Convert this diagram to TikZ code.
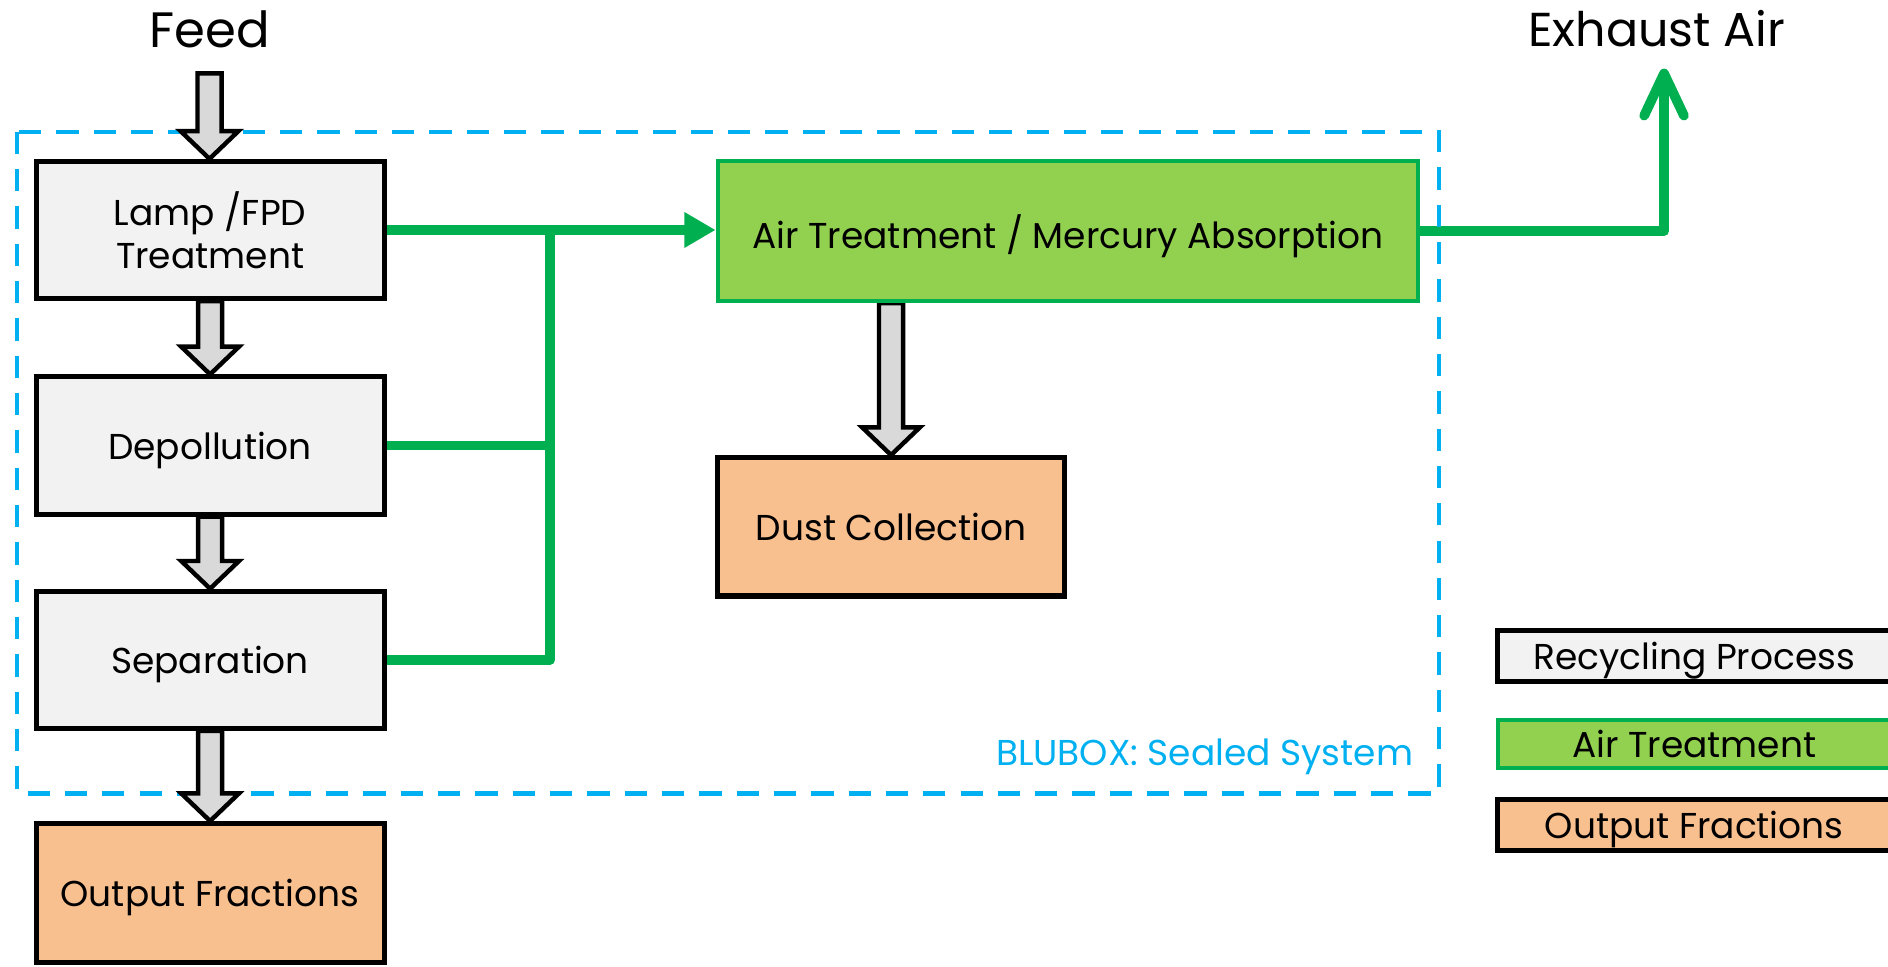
\documentclass[tikz,border=0pt]{standalone}
\usepackage{fontspec}
\setmainfont{Poppins}
\usetikzlibrary{arrows.meta,calc,backgrounds}
\definecolor{boxgray}{HTML}{F2F2F2}
\definecolor{arrowgray}{HTML}{D9D9D9}
\definecolor{airfill}{HTML}{92D050}
\definecolor{airline}{HTML}{00B050}
\definecolor{outfill}{HTML}{F8BF8F}
\definecolor{bluline}{HTML}{00B0F0}
\newcommand\blockarrow[2]{%
  \path[draw=black, fill=arrowgray, line width=2.1pt, line join=miter]
  let \p1=(#1), \p2=(#2) in
  (\x1-0.2cm,\y1) -- (\x1-0.2cm,\y2+0.46cm) -- (\x1-0.48cm,\y2+0.46cm) -- (\x1,\y2)
  -- (\x1+0.48cm,\y2+0.46cm) -- (\x1+0.2cm,\y2+0.46cm) -- (\x1+0.2cm,\y1) -- cycle;}
\tikzset{
  boxtext/.style={font=\fontsize{17}{20.5}\selectfont, align=center, inner sep=0pt, text depth=0pt},
  proc/.style={boxtext, draw=black, fill=boxgray, line width=2.4pt, minimum width=5.78cm, minimum height=2.28cm},
  outbox/.style={boxtext, draw=black, fill=outfill, line width=2.4pt, minimum width=5.78cm, minimum height=2.3cm},
  airbox/.style={boxtext, draw=airline, fill=airfill, line width=2pt, minimum width=11.64cm, minimum height=2.32cm},
  legbox/.style={boxtext, line width=2.4pt, minimum width=6.52cm, minimum height=0.84cm},
  title/.style={font=\fontsize{23.5}{28}\selectfont, inner sep=0pt},
  greenline/.style={draw=airline, line width=4.6pt, line join=round},
  blubox/.style={draw=bluline, line width=1.9pt, dash pattern=on 0.37cm off 0.25cm},
}
\begin{document}
\begin{tikzpicture}[x=0.02cm, y=-0.02cm]
\clip (0,0) rectangle (1568,803);
% titles
\node[title] (feed) at (174,24) {Feed};
\node[title, font=\fontsize{22.5}{27}\selectfont] (exhaust) at (1376,24) {Exhaust Air};
\coordinate (feedtop) at (174,61);
% process boxes
\node[proc] (lamp) at (174.5,191) {Lamp /FPD\\Treatment};
\node[proc] (dep) at (174.5,370) {Depollution};
\node[proc] (sep) at (174.5,548) {Separation};
\node[outbox] (out) at (174.5,741.5) {Output Fractions};
\node[airbox] (air) at (887,192) {Air Treatment / Mercury Absorption};
\node[outbox, minimum width=5.76cm] (dust) at (740,437.5) {Dust Collection};
% legend
\node[legbox, draw=black, fill=boxgray] (legrec) at (1407,545) {Recycling Process};
\node[legbox, draw=airline, fill=airfill, line width=2pt, minimum height=0.8cm] (legair) at (1407,618) {Air Treatment};
\node[legbox, draw=black, fill=outfill] (legout) at (1407,685) {Output Fractions};
% air lines
\coordinate (j) at (457,0);
\draw[greenline, -{Triangle[length=0.52cm, width=0.56cm]}] (lamp.east) -- (lamp.east -| air.west);
\draw[greenline] (dep.east) -- (dep.east -| j);
\draw[greenline] (sep.east) -- (sep.east -| j) -- (lamp.east -| j);
\coordinate (exturn) at (1382,192);
\coordinate (exend) at (1382,57);
\draw[greenline, -{Straight Barb[length=0.7cm, width=0.66cm, round]}] (air.east) -- (exturn) -- (exend);
% sealed system frame
\coordinate (bbnw) at (14.5,109.5);
\coordinate (bbse) at (1195,659);
\draw[blubox] (bbnw) rectangle (bbse);
\node[boxtext, text=bluline, anchor=east] (blutext) at (1174,625) {BLUBOX: Sealed System};
% block arrows
\blockarrow{feedtop}{lamp.north}
\blockarrow{lamp.south}{dep.north}
\blockarrow{dep.south}{sep.north}
\blockarrow{sep.south}{out.north}
\begin{pgfonlayer}{background}
\blockarrow{dust.north |- air.south}{dust.north}
\end{pgfonlayer}
\end{tikzpicture}
\end{document}
